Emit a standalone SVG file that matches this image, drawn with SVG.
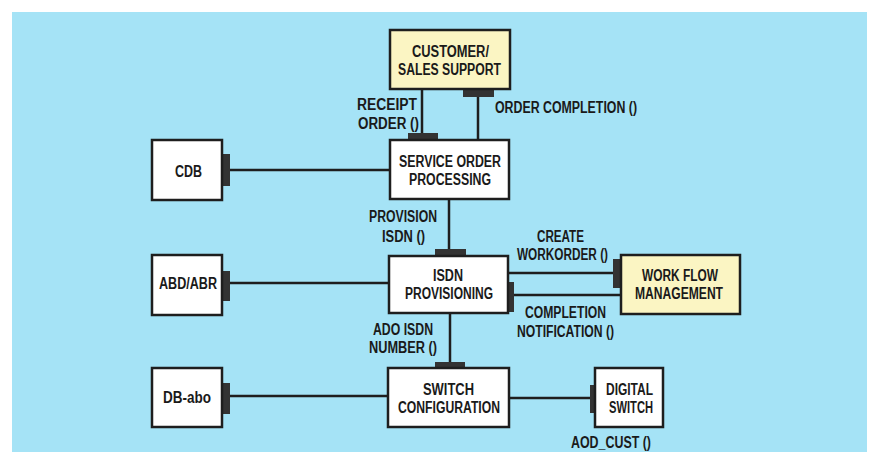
<svg xmlns="http://www.w3.org/2000/svg" width="869" height="452" viewBox="0 0 869 452">
  <style>
    .box { fill: #ffffff; stroke: #1e1e1e; stroke-width: 2.5; }
    .hl { fill: #fbf5c3; }
    .link { stroke: #1e1e1e; stroke-width: 2.5; fill: none; }
    .port { fill: #333333; }
    text { font-family: "Liberation Sans", Arial, sans-serif; font-weight: bold; font-size: 16px; fill: #1a1a1a; }
  </style>
  <rect x="0" y="0" width="869" height="452" fill="#ffffff"/>
  <rect x="12" y="12" width="855" height="440" fill="#a5e3f6"/>

  <!-- connectors -->
  <g id="connectors">
    <line class="link" x1="422" y1="89" x2="422" y2="134"/>
    <rect class="port" x="408" y="133" width="30" height="7"/>
    <line class="link" x1="478" y1="96" x2="478" y2="140"/>
    <rect class="port" x="463" y="89" width="31" height="8"/>

    <line class="link" x1="230" y1="170" x2="390" y2="170"/>
    <rect class="port" x="222" y="154" width="8" height="32"/>

    <line class="link" x1="449" y1="199" x2="449" y2="250"/>
    <rect class="port" x="435" y="249" width="31" height="7"/>

    <line class="link" x1="230" y1="283" x2="389" y2="283"/>
    <rect class="port" x="222" y="271" width="8" height="30"/>

    <line class="link" x1="508" y1="273" x2="614" y2="273"/>
    <rect class="port" x="613" y="259" width="9" height="29"/>
    <line class="link" x1="513" y1="295" x2="621" y2="295"/>
    <rect class="port" x="508" y="282" width="6" height="30"/>

    <line class="link" x1="450" y1="313" x2="450" y2="363"/>
    <rect class="port" x="435" y="362" width="30" height="6"/>

    <line class="link" x1="230" y1="396" x2="388" y2="396"/>
    <rect class="port" x="222" y="383" width="8" height="31"/>

    <line class="link" x1="509" y1="398" x2="591" y2="398"/>
    <rect class="port" x="590" y="385" width="5" height="28"/>
  </g>

  <!-- connector labels -->
  <g id="labels">
    <text x="357" y="110" textLength="60" lengthAdjust="spacingAndGlyphs">RECEIPT</text>
    <text x="358" y="129" textLength="61" lengthAdjust="spacingAndGlyphs">ORDER ()</text>
    <text x="495" y="113" textLength="142" lengthAdjust="spacingAndGlyphs">ORDER COMPLETION ()</text>
    <text x="369" y="222" textLength="68" lengthAdjust="spacingAndGlyphs">PROVISION</text>
    <text x="382" y="242" textLength="43" lengthAdjust="spacingAndGlyphs">ISDN ()</text>
    <text x="537" y="242" textLength="47" lengthAdjust="spacingAndGlyphs">CREATE</text>
    <text x="517" y="260" textLength="91" lengthAdjust="spacingAndGlyphs">WORKORDER ()</text>
    <text x="525" y="318" textLength="81" lengthAdjust="spacingAndGlyphs">COMPLETION</text>
    <text x="517" y="337" textLength="97" lengthAdjust="spacingAndGlyphs">NOTIFICATION ()</text>
    <text x="373" y="335" textLength="60" lengthAdjust="spacingAndGlyphs">ADO ISDN</text>
    <text x="369" y="353" textLength="68" lengthAdjust="spacingAndGlyphs">NUMBER ()</text>
    <text x="571" y="448" textLength="80" lengthAdjust="spacingAndGlyphs">AOD_CUST ()</text>
  </g>

  <g id="customer-sales-support">
    <rect class="box hl" x="390" y="30" width="120" height="59"/>
    <text x="412" y="57" textLength="77" lengthAdjust="spacingAndGlyphs">CUSTOMER/</text>
    <text x="398" y="75" textLength="103" lengthAdjust="spacingAndGlyphs">SALES SUPPORT</text>
  </g>

  <g id="service-order-processing">
    <rect class="box" x="390" y="140" width="119" height="59"/>
    <text x="399" y="167" textLength="102" lengthAdjust="spacingAndGlyphs">SERVICE ORDER</text>
    <text x="409" y="185" textLength="82" lengthAdjust="spacingAndGlyphs">PROCESSING</text>
  </g>

  <g id="cdb">
    <rect class="box" x="152" y="140" width="70" height="60"/>
    <text x="175" y="177" textLength="27" lengthAdjust="spacingAndGlyphs">CDB</text>
  </g>

  <g id="abd-abr">
    <rect class="box" x="152" y="255" width="70" height="60"/>
    <text x="159" y="289" textLength="58" lengthAdjust="spacingAndGlyphs">ABD/ABR</text>
  </g>

  <g id="isdn-provisioning">
    <rect class="box" x="389" y="256" width="119" height="57"/>
    <text x="433" y="281" textLength="30" lengthAdjust="spacingAndGlyphs">ISDN</text>
    <text x="405" y="299" textLength="88" lengthAdjust="spacingAndGlyphs">PROVISIONING</text>
  </g>

  <g id="work-flow-management">
    <rect class="box hl" x="621" y="255" width="119" height="59"/>
    <text x="642" y="281" textLength="76" lengthAdjust="spacingAndGlyphs">WORK FLOW</text>
    <text x="635" y="299" textLength="88" lengthAdjust="spacingAndGlyphs">MANAGEMENT</text>
  </g>

  <g id="db-abo">
    <rect class="box" x="152" y="368" width="70" height="59"/>
    <text x="163" y="403" textLength="48" lengthAdjust="spacingAndGlyphs">DB-abo</text>
  </g>

  <g id="switch-configuration">
    <rect class="box" x="388" y="368" width="121" height="59"/>
    <text x="423" y="395" textLength="51" lengthAdjust="spacingAndGlyphs">SWITCH</text>
    <text x="398" y="413" textLength="102" lengthAdjust="spacingAndGlyphs">CONFIGURATION</text>
  </g>

  <g id="digital-switch">
    <rect class="box" x="595" y="368" width="68" height="59"/>
    <text x="606" y="395" textLength="47" lengthAdjust="spacingAndGlyphs">DIGITAL</text>
    <text x="609" y="413" textLength="44" lengthAdjust="spacingAndGlyphs">SWITCH</text>
  </g>
</svg>
